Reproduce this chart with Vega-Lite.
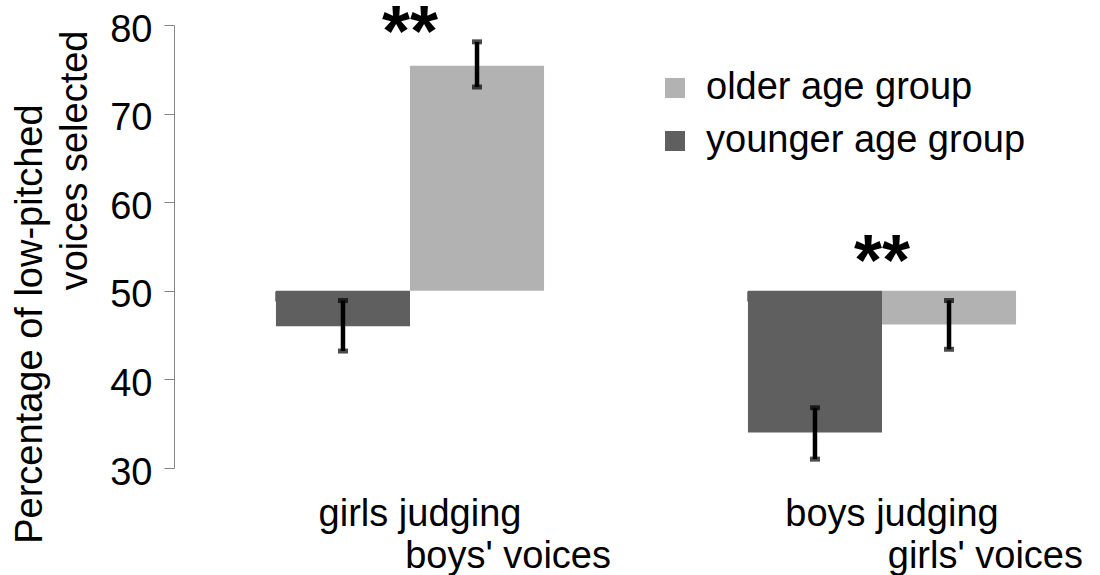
{
  "$schema": "https://vega.github.io/schema/vega-lite/v6.json",
  "width": 926,
  "height": 443,
  "autosize": "none",
  "padding": {"left": 174, "top": 25, "right": 0, "bottom": 107},
  "background": "white",
  "config": {
    "view": {"stroke": null},
    "font": "Liberation Sans",
    "axis": {"labelFont": "Liberation Sans", "titleFont": "Liberation Sans"}
  },
  "datasets": {
    "bars": [
      {"condition": "girls judging boys' voices", "group": "younger age group", "value": 46.0, "lo": 43.2, "hi": 48.9},
      {"condition": "girls judging boys' voices", "group": "older age group", "value": 75.4, "lo": 73.0, "hi": 78.1},
      {"condition": "boys judging girls' voices", "group": "younger age group", "value": 34.0, "lo": 31.0, "hi": 36.8},
      {"condition": "boys judging girls' voices", "group": "older age group", "value": 46.2, "lo": 43.4, "hi": 48.9}
    ],
    "labels": [
      {"condition": "girls judging boys' voices", "line1": "girls judging", "line2": "boys' voices"},
      {"condition": "boys judging girls' voices", "line1": "boys judging", "line2": "girls' voices"}
    ],
    "stars": [
      {"condition": "girls judging boys' voices", "label": "**", "level": 79.0},
      {"condition": "boys judging girls' voices", "label": "**", "level": 53.1}
    ]
  },
  "layer": [
    {
      "data": {"name": "bars"},
      "mark": {"type": "bar"},
      "encoding": {
        "x": {
          "field": "condition",
          "type": "nominal",
          "sort": null,
          "scale": {"domain": ["girls judging boys' voices", "boys judging girls' voices"], "range": [0, 944], "paddingInner": 0.432, "paddingOuter": 0.216},
          "axis": {"orient": "bottom", "offset": -177, "domain": false, "labels": false, "ticks": true, "bandPosition": 0, "tickSize": 10, "tickColor": "#868686", "tickWidth": 1, "title": null}
        },
        "xOffset": {"field": "group", "type": "nominal", "scale": {"domain": ["younger age group", "older age group"]}},
        "y": {
          "field": "value",
          "type": "quantitative",
          "scale": {"domain": [30, 80], "nice": false, "zero": false},
          "axis": {
            "values": [30, 40, 50, 60, 70, 80],
            "grid": false,
            "domainColor": "#868686",
            "tickColor": "#868686",
            "tickSize": 10,
            "labelFontSize": 38,
            "labelColor": "#000000",
            "labelPadding": 12,
            "labelOffset": 5,
            "title": ["Percentage of low-pitched\u00a0\u00a0\u00a0\u00a0\u00a0\u00a0\u00a0\u200b", "voices selected"],
            "titleFontSize": 38,
            "titleFontWeight": "normal",
            "titleColor": "#000000",
            "titleAlign": "right",
            "titleBaseline": "alphabetic",
            "titleAngle": -90,
            "titleX": -133,
            "titleY": 5,
            "titleLineHeight": 45,
            "titleLimit": 0
          }
        },
        "y2": {"datum": 50},
        "color": {
          "field": "group",
          "type": "nominal",
          "scale": {"domain": ["older age group", "younger age group"], "range": ["#b2b2b2", "#5f5f5f"]},
          "legend": {
            "orient": "none",
            "legendX": 482,
            "legendY": 44,
            "title": null,
            "symbolType": "square",
            "symbolSize": 400,
            "symbolStrokeWidth": 0,
            "labelFontSize": 38,
            "labelFont": "Liberation Sans",
            "labelColor": "#000000",
            "labelOffset": 12,
            "labelLimit": 0,
            "rowPadding": 15,
            "padding": 0
          }
        }
      }
    },
    {
      "mark": {"type": "rule", "color": "#868686", "strokeWidth": 1.5},
      "encoding": {"y": {"datum": 50}}
    },
    {
      "data": {"name": "bars"},
      "mark": {"type": "rule", "color": "#000000", "strokeWidth": 4.5},
      "encoding": {
        "x": {"field": "condition", "type": "nominal", "sort": null},
        "xOffset": {"field": "group", "type": "nominal"},
        "y": {"field": "lo", "type": "quantitative"},
        "y2": {"field": "hi"}
      }
    },
    {
      "data": {"name": "bars"},
      "mark": {"type": "tick", "color": "#000000", "thickness": 5, "size": 10, "orient": "horizontal"},
      "encoding": {
        "x": {"field": "condition", "type": "nominal", "sort": null},
        "xOffset": {"field": "group", "type": "nominal"},
        "y": {"field": "lo", "type": "quantitative"}
      }
    },
    {
      "data": {"name": "bars"},
      "mark": {"type": "tick", "color": "#000000", "thickness": 5, "size": 10, "orient": "horizontal"},
      "encoding": {
        "x": {"field": "condition", "type": "nominal", "sort": null},
        "xOffset": {"field": "group", "type": "nominal"},
        "y": {"field": "hi", "type": "quantitative"}
      }
    },
    {
      "data": {"name": "stars"},
      "mark": {"type": "text", "font": "Liberation Sans", "fontSize": 72, "fontWeight": "bold", "align": "center", "baseline": "middle", "color": "#000000"},
      "encoding": {
        "x": {"field": "condition", "type": "nominal", "sort": null},
        "y": {"field": "level", "type": "quantitative"},
        "text": {"field": "label"}
      }
    },
    {
      "data": {"name": "labels"},
      "mark": {"type": "text", "font": "Liberation Sans", "fontSize": 38, "align": "center", "baseline": "alphabetic", "dx": 10, "color": "#000000"},
      "encoding": {
        "x": {"field": "condition", "type": "nominal", "sort": null},
        "y": {"datum": 23.45},
        "text": {"field": "line1"}
      }
    },
    {
      "data": {"name": "labels"},
      "mark": {"type": "text", "font": "Liberation Sans", "fontSize": 38, "align": "right", "baseline": "alphabetic", "dx": 201, "color": "#000000"},
      "encoding": {
        "x": {"field": "condition", "type": "nominal", "sort": null},
        "y": {"datum": 18.75},
        "text": {"field": "line2"}
      }
    }
  ]
}
